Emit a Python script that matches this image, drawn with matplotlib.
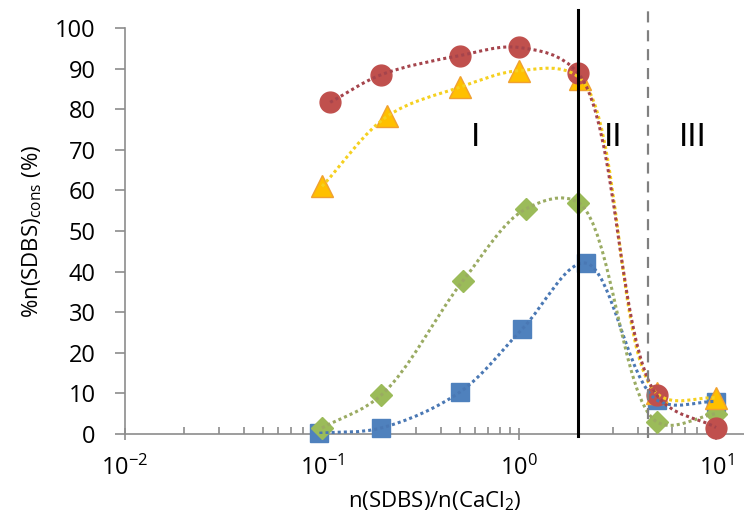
import numpy as np
import matplotlib
matplotlib.use("Agg")
import matplotlib.pyplot as plt
from matplotlib.path import Path
from matplotlib.patches import PathPatch
from matplotlib.ticker import LogLocator, NullFormatter, FixedLocator

plt.rcParams['font.family'] = ['Open Sans', 'DejaVu Sans']
plt.rcParams['mathtext.default'] = 'regular'

# data (x = n(SDBS)/n(CaCl2), y = %)
x_blue = [0.097, 0.2, 0.5, 1.04, 2.18, 5.0, 10.0]
y_blue = [0.2, 1.5, 10.3, 25.9, 42.1, 8.4, 8.0]
x_green = [0.1, 0.2, 0.52, 1.08, 2.0, 5.0, 10.0]
y_green = [1.5, 9.6, 37.8, 55.4, 57.0, 3.0, 5.0]
x_yellow = [0.1, 0.215, 0.5, 1.0, 2.05, 5.0, 10.0]
y_yellow = [61.0, 78.3, 85.4, 89.5, 87.5, 10.0, 8.9]
x_red = [0.11, 0.2, 0.5, 1.0, 2.0, 5.0, 10.0]
y_red = [81.7, 88.5, 93.2, 95.2, 88.8, 9.6, 1.6]

region_x = [2.0, 4.5]
region_labels = ['I', 'II', 'III']
region_label_x = [0.6, 3.0, 7.6]
region_label_y = 73
xtick_vals = [0.01, 0.1, 1, 10]
xtick_labels = ['10$^{-2}$', '10$^{-1}$', '10$^{0}$', '10$^{1}$']
ytick_vals = list(range(0, 101, 10))

fig = plt.figure(figsize=(7.44, 5.15), dpi=100)
ax = fig.add_axes([125/744, 1-434/515, 1-125/744, 406/515])
ax.set_xscale('log')
ax.set_xlim(0.01, 13.87)
ax.set_ylim(0, 100)


def smooth_path(xs, ys, alpha=0.5):
    """Centripetal Catmull-Rom spline through the points,
    as cubic Bezier segments computed in display space."""
    pts = ax.transData.transform(np.column_stack([xs, ys]))
    n = len(pts)
    d = np.linalg.norm(np.diff(pts, axis=0), axis=1)
    dt = np.maximum(d ** alpha, 1e-6)
    tang = np.zeros_like(pts)
    for i in range(n):
        if i == 0:
            tang[i] = (pts[1] - pts[0]) / dt[0]
        elif i == n - 1:
            tang[i] = (pts[-1] - pts[-2]) / dt[-1]
        else:
            tang[i] = ((pts[i] - pts[i - 1]) / dt[i - 1]
                       - (pts[i + 1] - pts[i - 1]) / (dt[i - 1] + dt[i])
                       + (pts[i + 1] - pts[i]) / dt[i])
    verts = [pts[0]]
    codes = [Path.MOVETO]
    for i in range(n - 1):
        c1 = pts[i] + tang[i] * dt[i] / 3.0
        c2 = pts[i + 1] - tang[i + 1] * dt[i] / 3.0
        verts += [c1, c2, pts[i + 1]]
        codes += [Path.CURVE4] * 3
    verts = ax.transData.inverted().transform(np.array(verts))
    return Path(verts, codes)

series = [
    (x_blue, y_blue, 's', 13, '#4f81bd', '#4f81bd', '#4a78b4'),
    (x_green, y_green, 'D', 11.5, '#9bbb59', '#9bbb59', '#9aab62'),
    (x_yellow, y_yellow, '^', 16.5, '#ffc000', '#f0a030', '#f5d020'),
    (x_red, y_red, 'o', 15, '#c0504d', '#c0504d', '#a5444c'),
]

for xs, ys, m, ms, fc, ec, lc in series:
    ax.plot(xs, ys, linestyle='none', marker=m, markersize=ms,
            markerfacecolor=fc, markeredgecolor=ec, markeredgewidth=1,
            zorder=3, clip_on=False)
for xs, ys, m, ms, fc, ec, lc in series:
    ax.add_patch(PathPatch(smooth_path(xs, ys), facecolor='none',
                           edgecolor=lc, linewidth=2.2,
                           linestyle=(0, (1, 1)), zorder=4))

ax.plot([region_x[0], region_x[0]], [-0.5, 104.5], color='black', lw=2.2,
        zorder=5, clip_on=False)
ax.plot([region_x[1], region_x[1]], [-1, 104.5], color='#808080', lw=1.6,
        linestyle=(0, (5, 3.5)), zorder=5, clip_on=False)

for lab, lxp in zip(region_labels, region_label_x):
    ax.text(lxp, region_label_y, lab, fontsize=24, ha='center', va='center',
            color='black', family=['Liberation Sans', 'DejaVu Sans'])

for s in ['top', 'right']:
    ax.spines[s].set_visible(False)
for s in ['left', 'bottom']:
    ax.spines[s].set_color('#8c8c8c')
    ax.spines[s].set_linewidth(1.2)

ax.xaxis.set_major_locator(FixedLocator(xtick_vals))
ax.set_xticklabels(xtick_labels)
ax.xaxis.set_minor_locator(LogLocator(base=10, subs=np.arange(2, 10), numticks=20))
ax.xaxis.set_minor_formatter(NullFormatter())
ax.set_yticks(ytick_vals)

ax.tick_params(axis='x', which='major', direction='inout', length=9,
               color='#8c8c8c', width=1.2, labelsize=17, pad=11)
ax.tick_params(axis='x', which='minor', direction='in', length=5,
               color='#8c8c8c', width=1.2)
ax.tick_params(axis='y', which='major', direction='out', length=7,
               color='#8c8c8c', width=1.2, labelsize=17, pad=14)

ax.set_xlabel('n(SDBS)/n(CaCl$_2$)', fontsize=16, labelpad=6)
ax.set_ylabel('%n(SDBS)$_{cons}$ (%)', fontsize=16, labelpad=8)

fig.savefig('out.png', dpi=100)
